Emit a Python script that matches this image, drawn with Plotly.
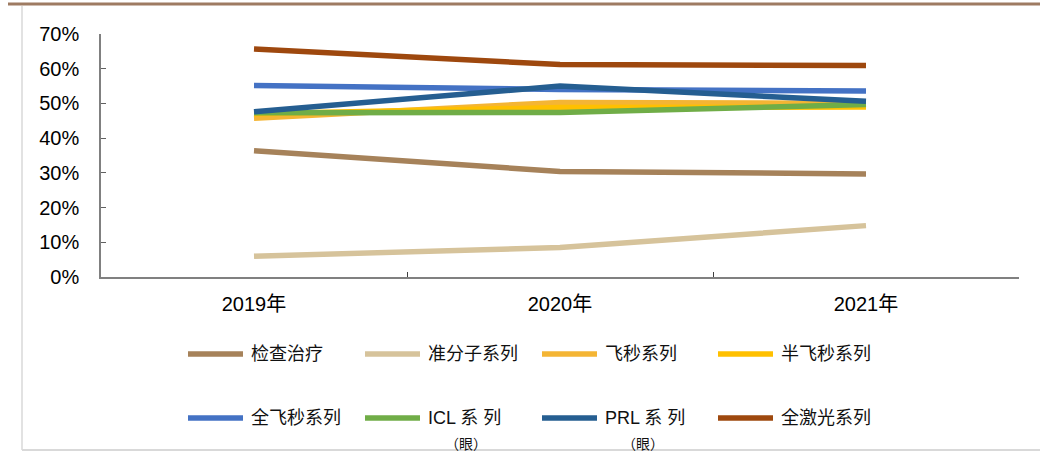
import plotly.graph_objects as go

# Categories and series (share of revenue)
years = ["2019年", "2020年", "2021年"]

series_names = ["检查治疗", "准分子系列", "飞秒系列", "半飞秒系列",
                "全飞秒系列", "ICL系列（眼）", "PRL系列（眼）", "全激光系列"]
legend_labels = ["检查治疗", "准分子系列", "飞秒系列", "半飞秒系列",
                 "全飞秒系列", "ICL 系 列", "PRL 系 列", "全激光系列"]
legend_sublabels = ["", "", "", "", "", "（眼）", "（眼）", ""]

jiancha = [0.364, 0.304, 0.297]
zhunfenzi = [0.060, 0.085, 0.148]
feimiao = [0.457, 0.503, 0.500]
banfeimiao = [0.470, 0.488, 0.490]
quanfeimiao = [0.552, 0.540, 0.536]
icl = [0.473, 0.474, 0.497]
prl = [0.476, 0.550, 0.506]
quanjiguang = [0.657, 0.612, 0.609]

series_values = [jiancha, zhunfenzi, feimiao, banfeimiao,
                 quanfeimiao, icl, prl, quanjiguang]
colors = ["#A6825A", "#D6C39B", "#F4B534", "#FFC000",
          "#4472C4", "#70AD47", "#255E91", "#9E480E"]

y_ticks = [0, 0.1, 0.2, 0.3, 0.4, 0.5, 0.6, 0.7]
y_tick_text = ["0%", "10%", "20%", "30%", "40%", "50%", "60%", "70%"]

W, H = 1040, 454
M_L, M_R, M_T, M_B = 101, 21, 34, 177
PW, PH = W - M_L - M_R, H - M_T - M_B

fig = go.Figure()
for name, vals, col in zip(series_names, series_values, colors):
    fig.add_trace(go.Scatter(
        x=years, y=vals, name=name, mode="lines",
        line=dict(color=col, width=5.5),
        showlegend=False, hoverinfo="x+y+name",
    ))


def px_to_paper(px, py):
    return (px - M_L) / PW, (H - M_B - py) / PH


shapes = []
annotations = []
legend_font = dict(family="Liberation Sans, Noto Sans CJK SC", size=18, color="#111111")

# Custom legend: 4 columns x 2 rows
col_x = [188, 365, 542, 718]
row_y = [354, 418]
for i, (label, sub, col) in enumerate(zip(legend_labels, legend_sublabels, colors)):
    cx = col_x[i % 4]
    ry = row_y[i // 4]
    x0, y0 = px_to_paper(cx, ry)
    x1, _ = px_to_paper(cx + 55, ry)
    shapes.append(dict(type="line", xref="paper", yref="paper",
                       x0=x0, x1=x1, y0=y0, y1=y0,
                       line=dict(color=col, width=5.5)))
    tx, ty = px_to_paper(cx + 61, ry)
    annotations.append(dict(
        text=label, xref="paper", yref="paper", x=tx, y=ty,
        xanchor="left", yanchor="middle", showarrow=False,
        font=legend_font,
    ))
    if sub:
        sx, sy = px_to_paper(cx + 101, ry + 25)
        annotations.append(dict(
            text=sub, xref="paper", yref="paper", x=sx, y=sy,
            xanchor="center", yanchor="middle", showarrow=False,
            font=dict(family="Noto Sans CJK SC", size=14, color="#111111"),
        ))

# Decorative frame: brown top rule, light grey left and bottom edges
tx0, ty0 = px_to_paper(8, 4)
tx1, _ = px_to_paper(1040, 4)
shapes.append(dict(type="line", xref="paper", yref="paper",
                   x0=tx0, x1=tx1, y0=ty0, y1=ty0,
                   line=dict(color="#9E7B62", width=3)))
lx, ly0 = px_to_paper(22, 6)
_, ly1 = px_to_paper(22, 450)
shapes.append(dict(type="line", xref="paper", yref="paper",
                   x0=lx, x1=lx, y0=ly0, y1=ly1,
                   line=dict(color="#D9D9D9", width=1.5)))
bx1, _ = px_to_paper(1040, 450)
shapes.append(dict(type="line", xref="paper", yref="paper",
                   x0=lx, x1=bx1, y0=ly1, y1=ly1,
                   line=dict(color="#D9D9D9", width=2)))

fig.update_layout(
    width=W, height=H,
    margin=dict(l=M_L, r=M_R, t=M_T, b=M_B),
    paper_bgcolor="white", plot_bgcolor="white",
    shapes=shapes, annotations=annotations,
    font=dict(family="Liberation Sans, Arial, Noto Sans CJK SC", color="#000000"),
    xaxis=dict(
        type="category", range=[-0.5, 2.5],
        showline=True, linecolor="#808080", linewidth=2,
        ticks="inside", tickson="boundaries", ticklen=5,
        tickcolor="#404040", tickwidth=1,
        showgrid=False, zeroline=False,
        tickfont=dict(family="Liberation Sans, Noto Sans CJK SC", size=20, color="#000000"),
        ticklabelstandoff=8,
    ),
    yaxis=dict(
        range=[0, 0.7], tickvals=y_ticks, ticktext=y_tick_text,
        showline=True, linecolor="#808080", linewidth=1.5,
        ticks="inside", ticklen=5, tickcolor="#606060", tickwidth=1,
        showgrid=False, zeroline=False,
        tickfont=dict(family="Liberation Sans, Arial", size=20, color="#000000"),
        ticklabelstandoff=16,
    ),
)

fig.write_html("out.html")
